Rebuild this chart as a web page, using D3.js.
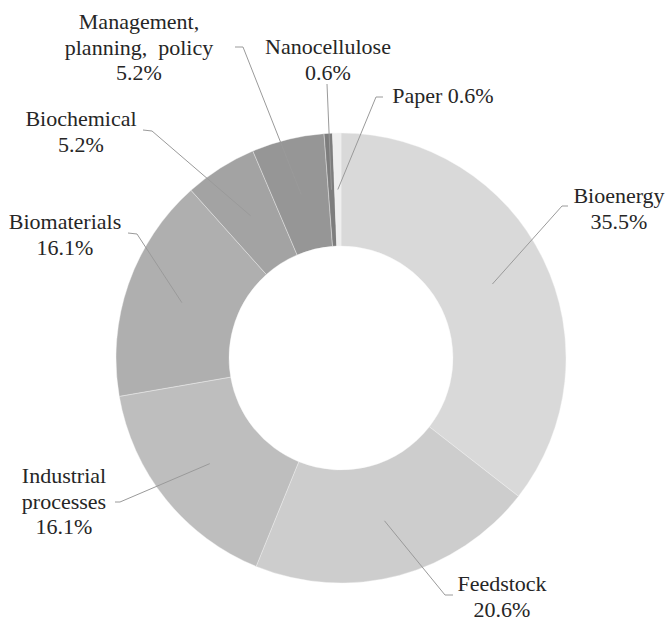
<!DOCTYPE html>
<html>
<head>
<meta charset="utf-8">
<script src="https://cdn.jsdelivr.net/npm/d3@7"></script>
</head>
<body style="margin:0">
<script>

// data
const categories = ["Bioenergy", "Feedstock", "Industrial processes", "Biomaterials",
    "Biochemical", "Management, planning, policy", "Nanocellulose", "Paper"];
const shares = [35.5, 20.6, 16.1, 16.1, 5.2, 5.2, 0.6, 0.6];

// how each label's name is broken into lines
const nameLines = [
    ["Bioenergy"], ["Feedstock"], ["Industrial", "processes"], ["Biomaterials"],
    ["Biochemical"], ["Management,", "planning,\u00a0 policy"], ["Nanocellulose"], ["Paper"]
];

/* styling / layout */
const sliceColors = ["#d9d9d9", "#cdcdcd", "#bebebe", "#afafaf", "#a3a3a3", "#969696", "#7d7d7d", "#eeeeee"];
const labelFont = "'Times New Roman', 'Liberation Serif', Tinos, serif";

// label text centre + first baseline, and leader points (label end, elbow)
const labelLayout = [
    { x: 619, y: 203, lead: [[568, 206], [562, 206]] },
    { x: 502, y: 591, lead: [[453, 595], [445, 595]] },
    { x: 64, y: 483, lead: [[115, 502], [120, 502]] },
    { x: 65, y: 229, lead: [[128, 233], [137, 234]] },
    { x: 81, y: 126, lead: [[143, 130], [152, 131]] },
    { x: 139, y: 29, lead: [[235, 47], [243, 47]] },
    { x: 328, y: 54, lead: [[327, 84]] },
    { x: 443, y: 103, lead: [[383, 97], [376, 97]], inline: true }
];

const W = 668, H = 618;
const cx = 341, cy = 358;
const outerR = 225, innerR = 112;
const lineH = 25.5;

const svg = d3.select("body").append("svg")
    .attr("width", W).attr("height", H)
    .attr("font-family", labelFont)
    .style("display", "block");

const pie = d3.pie().sort(null).value(d => d.v);
const arc = d3.arc().innerRadius(innerR).outerRadius(outerR);
const fmt = v => d3.format(".1f")(v) + "%";

const dataset = categories.map((c, i) => ({ name: c, v: shares[i], i: i }));
const arcs = pie(dataset);

const g = svg.append("g").attr("transform", `translate(${cx},${cy})`);

/* slices */
g.selectAll("path.slice")
    .data(arcs)
    .join("path")
    .attr("class", "slice")
    .attr("d", arc)
    .attr("fill", d => sliceColors[d.data.i])
    .attr("stroke", "#f4f4f4")
    .attr("stroke-width", 0.4);

/* leader lines: label -> elbow -> slice centroid */
const leader = d3.line();
svg.append("g").selectAll("path")
    .data(arcs)
    .join("path")
    .attr("d", d => {
        const c = arc.centroid(d);
        const pts = labelLayout[d.data.i].lead.concat([[c[0] + cx, c[1] + cy]]);
        return leader(pts);
    })
    .attr("fill", "none")
    .attr("stroke", "#9a9a9a")
    .attr("stroke-width", 1);

/* labels, one <text> per line */
const labelRows = [];
arcs.forEach(d => {
    const lay = labelLayout[d.data.i];
    const lines = lay.inline
        ? [nameLines[d.data.i].join(" ") + " " + fmt(d.data.v)]
        : nameLines[d.data.i].concat([fmt(d.data.v)]);
    lines.forEach((t, k) => labelRows.push({ t: t, x: lay.x, y: lay.y + k * lineH }));
});

svg.selectAll("text")
    .data(labelRows)
    .join("text")
    .attr("x", d => d.x)
    .attr("y", d => d.y)
    .attr("font-size", 22)
    .style("font-family", labelFont)
    .attr("fill", "#262626")
    .attr("text-anchor", "middle")
    .text(d => d.t);

</script>
</body>
</html>
